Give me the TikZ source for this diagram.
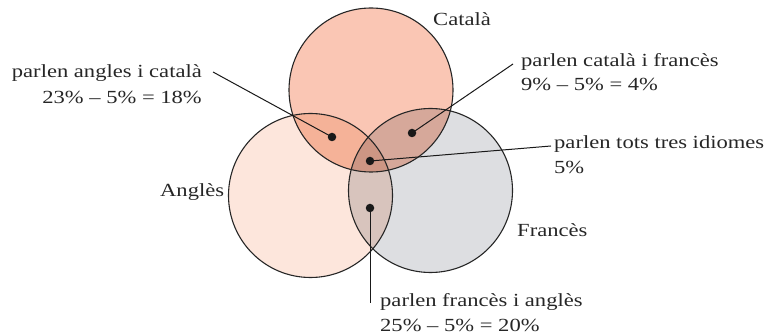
\documentclass[tikz,border=0pt]{standalone}
\usepackage{fontspec}
\setmainfont[FakeStretch=1.22]{Liberation Serif}
\definecolor{colC}{RGB}{250,198,180}
\definecolor{colA}{RGB}{253,230,220}
\definecolor{colF}{RGB}{221,222,225}
\definecolor{colAC}{RGB}{245,178,152}
\definecolor{colCF}{RGB}{214,168,154}
\definecolor{colAF}{RGB}{216,196,189}
\definecolor{colACF}{RGB}{205,150,132}
\begin{document}
\begin{tikzpicture}[x=1pt,y=-1pt,
  lbl/.style={inner sep=0pt, font=\fontsize{18.5}{26}\selectfont, text=black!85},
  ring/.style={draw=black!85, line width=1.1pt},
  lead/.style={draw=black!90, line width=1pt},
  dotmark/.style={circle, fill=black!90, inner sep=0pt, minimum size=8.5pt}]
\useasboundingbox (0,0) rectangle (776,336);
\coordinate (C) at (371,90);
\coordinate (A) at (310.5,195.5);
\coordinate (F) at (430.5,190.5);
% base fills
\fill[colA] (A) circle (82pt);
\fill[colF] (F) circle (82pt);
\fill[colC] (C) circle (82pt);
% pairwise overlaps
\begin{scope}\clip (C) circle (82pt); \fill[colAC] (A) circle (82pt);\end{scope}
\begin{scope}\clip (C) circle (82pt); \fill[colCF] (F) circle (82pt);\end{scope}
\begin{scope}\clip (A) circle (82pt); \fill[colAF] (F) circle (82pt);\end{scope}
\begin{scope}\clip (C) circle (82pt); \clip (A) circle (82pt); \fill[colACF] (F) circle (82pt);\end{scope}
% outlines
\draw[ring] (A) circle (82pt);
\draw[ring] (F) circle (82pt);
\draw[ring] (C) circle (82pt);
% set labels
\node[lbl, anchor=base west] (lC) at (433,26) {Català};
\node[lbl, anchor=base west] (lA) at (160,197) {Anglès};
\node[lbl, anchor=base west] (lF) at (517,237) {Francès};
% dots
\node[dotmark] (dAC) at (332,137) {};
\node[dotmark] (dCF) at (412,133) {};
\node[dotmark] (dACF) at (370,161) {};
\node[dotmark] (dAF) at (370,208) {};
% leader ends
\coordinate (eAC) at (213,72);
\coordinate (eCF) at (513,64);
\coordinate (eACF) at (551,146);
\coordinate (eAF) at (370,303);
\draw[lead] (eAC) -- (dAC.center);
\draw[lead] (eCF) -- (dCF.center);
\draw[lead] (eACF) -- (dACF.center);
\draw[lead] (eAF) -- (dAF.center);
% texts
\node[lbl, anchor=base east] (tAC1) at (202,78) {parlen angles i català};
\node[lbl, anchor=base east] (tAC2) at (202,104) {23\% – 5\% = 18\%};
\node[lbl, anchor=base west] (tCF1) at (521,67) {parlen català i francès};
\node[lbl, anchor=base west] (tCF2) at (521,91) {9\% – 5\% = 4\%};
\node[lbl, anchor=base west] (tACF1) at (554,149) {parlen tots tres idiomes};
\node[lbl, anchor=base west] (tACF2) at (554,174) {5\%};
\node[lbl, anchor=base west] (tAF1) at (380,307) {parlen francès i anglès};
\node[lbl, anchor=base west] (tAF2) at (380,332) {25\% – 5\% = 20\%};
\end{tikzpicture}
\end{document}
